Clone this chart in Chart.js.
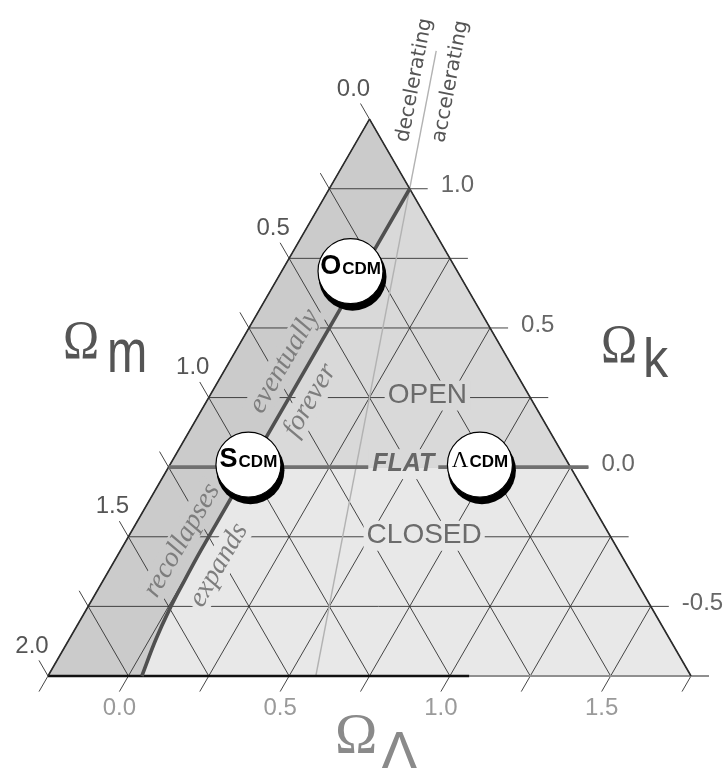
<!DOCTYPE html>
<html><head><meta charset="utf-8">
<script src="https://cdn.jsdelivr.net/npm/chart.js@4.4.1/dist/chart.umd.min.js"></script>
<style>html,body{margin:0;padding:0;background:#fff}#wrap{width:723px;height:768px}</style>
</head><body><div id="wrap"><canvas id="c" width="723" height="768"></canvas></div>
<script>
// ---------------- data ----------------
const omegaKLevels = [-0.75, -0.5, -0.25, 0, 0.25, 0.5, 0.75, 1.0];
const omegaLLevels = [-0.25, 0, 0.25, 0.5, 0.75, 1.0, 1.25, 1.5, 1.75];
const omegaMLevels = [0, 0.25, 0.5, 0.75, 1.0, 1.25, 1.5, 1.75, 2.0];

const omegaMTickValues = [0, 0.5, 1.0, 1.5, 2.0];
const omegaMTickLabels = ['0.0', '0.5', '1.0', '1.5', '2.0'];
const omegaKTickValues = [1.0, 0.5, 0, -0.5];
const omegaKTickLabels = ['1.0', '0.5', '0.0', '-0.5'];
const omegaLTickValues = [0, 0.5, 1.0, 1.5];
const omegaLTickLabels = ['0.0', '0.5', '1.0', '1.5'];

const modelLead   = ['O', 'S', 'Λ'];
const modelRest   = ['CDM', 'CDM', 'CDM'];
const modelOmegaM = [0.335, 1.0, 0.28];
const modelOmegaL = [-0.03, 0.0, 0.72];

// recollapse / expands-forever boundary
const boundaryOmegaM = [0.0, 0.5, 1.0, 1.2, 1.3, 1.4, 1.5, 1.6, 1.708];
const boundaryOmegaL = [0.0, 0.0, 0.0, 0.0, 0.0, 0.003, 0.008, 0.02, 0.042];

// accelerating / decelerating line
const accelOmegaM = [-0.33, 1.167];
const accelOmegaL = [-0.165, 0.583];

const baseDarkEndOmegaL = 1.06;

// ---------------- geometry helpers ----------------
const SQ = Math.sqrt(3) / 2;
function P(ol, ok) { return { x: ol + ok / 2, y: ok * SQ }; }       // from (Ω_Λ, Ω_k)
function M(om, ol) { return P(ol, 1 - om - ol); }                    // from (Ω_m, Ω_Λ)
const T = 0.056; // tick extension

const COL_LOW = '#e8e8e8', COL_UP = '#d9d9d9', COL_DARK = '#cbcbcb';
const GRID = 'rgba(50,50,50,0.9)';

const datasets = [];
function line(points, color, width, order, extra) {
  datasets.push(Object.assign({
    data: points, showLine: true, pointRadius: 0, borderColor: color,
    borderWidth: width, fill: false, order: order, tension: 0
  }, extra || {}));
}
omegaKLevels.forEach(ok => {
  if (ok === -0.75) line([P(1 - ok, ok), P(1 - ok + T, ok)], '#8f8f8f', 2, 10);
  else line([P(-0.25, ok), P(1 - ok + T, ok)], GRID, 1, 10);
});
omegaLLevels.forEach(ol => line([P(ol, -0.75 - T), P(ol, 1 - ol)], GRID, 1, 10));
omegaMLevels.forEach(om => line([P(-0.25 - T, 1.25 - om + T), P(1.75 - om, -0.75)], GRID, 1, 10));

line(accelOmegaM.map((m, i) => M(m, accelOmegaL[i])), '#b2b2b2', 1.4, 8);

line([P(-0.25, -0.75), P(-0.25, 1.25)], '#2b2b2b', 1.6, 6);
line([P(-0.25, 1.25), P(1.75, -0.75)], '#2b2b2b', 1.6, 6);
line([P(-0.25, -0.75), P(baseDarkEndOmegaL, -0.75)], '#111111', 2.6, 6);
line([P(baseDarkEndOmegaL, -0.75), P(1.75, -0.75)], '#8f8f8f', 2.2, 6);

line([P(-0.25, 0), P(1 + T, 0)], '#707070', 3.6, 4);
line(boundaryOmegaM.map((m, i) => M(m, boundaryOmegaL[i])), '#505050', 3.6, 4, { tension: 0.4 });

// ---------------- plugins ----------------
function px(chart, pt) {
  return { x: chart.scales.x.getPixelForValue(pt.x), y: chart.scales.y.getPixelForValue(pt.y) };
}
function poly(chart, pts, color) {
  const ctx = chart.ctx;
  ctx.beginPath();
  pts.forEach((p, i) => { const q = px(chart, p); i ? ctx.lineTo(q.x, q.y) : ctx.moveTo(q.x, q.y); });
  ctx.closePath(); ctx.fillStyle = color; ctx.fill();
}
const bgPlugin = {
  id: 'bg',
  beforeDatasetsDraw(chart) {
    poly(chart, [P(-0.25, -0.75), P(-0.25, 1.25), P(1.75, -0.75)], COL_LOW);
    poly(chart, [P(-0.25, 0), P(-0.25, 1.25), P(1, 0)], COL_UP);
    const strip = [P(-0.25, 1.25)].concat(boundaryOmegaM.map((m, i) => M(m, boundaryOmegaL[i]))).concat([P(-0.25, -0.75)]);
    poly(chart, strip, COL_DARK);
  }
};

function label(ctx, text, x, y, angle, font, color, bg, padX, bgH, align) {
  ctx.save();
  ctx.translate(x, y); ctx.rotate(angle || 0);
  ctx.font = font; ctx.textAlign = align || 'center'; ctx.textBaseline = 'middle';
  const w = ctx.measureText(text).width;
  if (bg) {
    const x0 = (align === 'left') ? -padX : -w / 2 - padX;
    if (Array.isArray(bg)) {
      ctx.fillStyle = bg[0]; ctx.fillRect(x0, -bgH / 2, w + 2 * padX, bgH / 2 + bg[2]);
      ctx.fillStyle = bg[1]; ctx.fillRect(x0, bg[2], w + 2 * padX, bgH / 2 - bg[2]);
    } else { ctx.fillStyle = bg; ctx.fillRect(x0, -bgH / 2, w + 2 * padX, bgH); }
  }
  ctx.fillStyle = color; ctx.fillText(text, 0, 0);
  ctx.restore();
}
function scaledText(ctx, text, x, y, font, sx, color) {
  ctx.save(); ctx.translate(x, y); ctx.scale(sx, 1);
  ctx.font = font; ctx.fillStyle = color; ctx.textAlign = 'left'; ctx.textBaseline = 'alphabetic';
  ctx.fillText(text, 0, 0); ctx.restore();
}

const fgPlugin = {
  id: 'fg',
  afterDatasetsDraw(chart) {
    const ctx = chart.ctx;
    // tick labels
    omegaMTickValues.forEach((v, i) => {
      const q = px(chart, P(-0.25, 1.25 - v));
      label(ctx, omegaMTickLabels[i], q.x - 16, q.y - 30, 0, '24px "Liberation Sans"', '#555');
    });
    omegaKTickValues.forEach((v, i) => {
      const q = px(chart, P(1 - v, v));
      label(ctx, omegaKTickLabels[i], q.x + 31, q.y - 3, 0, '24px "Liberation Sans"', '#676767', null, 0, 0, 'left');
    });
    omegaLTickValues.forEach((v, i) => {
      const q = px(chart, P(v, -0.75));
      label(ctx, omegaLTickLabels[i], q.x - 9, q.y + 32, 0, '24px "Liberation Sans"', '#9a9a9a');
    });

    // region labels
    let q = px(chart, M(0.32, 0.43));
    label(ctx, 'OPEN', q.x, q.y - 2, 0, '28px "Liberation Sans"', '#6b6b6b', COL_UP, 3, 30);
    q = px(chart, M(0.58, 0.67));
    label(ctx, 'CLOSED', q.x, q.y - 1, 0, '28px "Liberation Sans"', '#6b6b6b', COL_LOW, 3, 30);
    q = px(chart, M(0.52, 0.48));
    label(ctx, 'FLAT', q.x, q.y - 3, 0, 'italic bold 25px "Liberation Sans"', '#666', [COL_UP, COL_LOW, 3], 4, 30);

    // angled italic labels along the boundary
    const a0 = px(chart, P(0, -0.75)), a1 = px(chart, P(0, 1));
    const ang = Math.atan2(a1.y - a0.y, a1.x - a0.x);
    const serif = 'italic 28px "Liberation Serif"', sc = '#7d7d7d';
    q = px(chart, M(0.70, -0.08)); label(ctx, 'eventually', q.x, q.y, ang, serif, sc, COL_DARK, 3, 28);
    q = px(chart, M(0.69, 0.07));  label(ctx, 'forever', q.x, q.y, ang, serif, sc, COL_UP, 3, 28);
    q = px(chart, M(1.34, -0.077)); label(ctx, 'recollapses', q.x, q.y, ang, serif, sc, COL_DARK, 3, 28);
    q = px(chart, M(1.27, 0.082)); label(ctx, 'expands', q.x, q.y, ang, serif, sc, COL_LOW, 3, 28);

    // accelerating / decelerating
    const b0 = px(chart, M(accelOmegaM[1], accelOmegaL[1])), b1 = px(chart, M(accelOmegaM[0], accelOmegaL[0]));
    const angA = Math.atan2(b1.y - b0.y, b1.x - b0.x);
    q = px(chart, M(-0.21, -0.18)); label(ctx, 'decelerating', q.x, q.y, angA, '20px "DejaVu Sans"', '#555');
    q = px(chart, M(-0.32, -0.065)); label(ctx, 'accelerating', q.x, q.y, angA, '20px "DejaVu Sans"', '#555');

    // model circles
    modelOmegaM.forEach((om, i) => {
      const c = px(chart, M(om, modelOmegaL[i]));
      ctx.save();
      ctx.beginPath(); ctx.arc(c.x + 1.5, c.y + 3, 34, 0, Math.PI * 2); ctx.fillStyle = '#000'; ctx.fill();
      ctx.beginPath(); ctx.arc(c.x - 0.5, c.y - 2.5, 32.5, 0, Math.PI * 2);
      ctx.fillStyle = '#fff'; ctx.fill(); ctx.lineWidth = 1.2; ctx.strokeStyle = '#000'; ctx.stroke();
      const leadFont = modelLead[i] === 'Λ' ? '23px "Liberation Serif"' : 'bold 27px "Liberation Sans"';
      const restFont = 'bold 17px "Liberation Sans"';
      ctx.font = leadFont; const w1 = ctx.measureText(modelLead[i]).width;
      ctx.font = restFont; const w2 = ctx.measureText(modelRest[i]).width;
      const x0 = c.x - 0.5 - (w1 + w2 + 1) / 2;
      ctx.textBaseline = 'alphabetic'; ctx.textAlign = 'left'; ctx.fillStyle = '#000';
      ctx.font = leadFont; ctx.fillText(modelLead[i], x0, c.y);
      ctx.font = restFont; ctx.fillText(modelRest[i], x0 + w1 + 1, c.y);
      ctx.restore();
    });

    // axis titles
    const ca = chart.chartArea;
    scaledText(ctx, 'Ω', ca.left + 63, ca.top + 358, '54px "Liberation Serif"', 0.9, '#555');
    scaledText(ctx, 'm', ca.left + 107, ca.top + 372, '62px "Liberation Sans"', 0.78, '#555');
    scaledText(ctx, 'Ω', ca.left + 601, ca.top + 362, '54px "Liberation Serif"', 0.9, '#555');
    scaledText(ctx, 'k', ca.left + 643, ca.top + 377, '56px "Liberation Sans"', 0.9, '#555');
    scaledText(ctx, 'Ω', ca.left + 335, ca.top + 753, '57px "Liberation Serif"', 1.0, '#8a8a8a');
    scaledText(ctx, 'Λ', ca.left + 380, ca.top + 772, '58px "Liberation Sans"', 1.0, '#8a8a8a');
  }
};

new Chart(document.getElementById('c'), {
  type: 'scatter',
  data: { datasets: datasets },
  options: {
    responsive: false, animation: false, devicePixelRatio: 1, events: [],
    layout: { padding: 0 },
    scales: {
      x: { type: 'linear', min: -0.7743, max: 1.4745, display: false },
      y: { type: 'linear', min: -0.9357, max: 1.4531, display: false }
    },
    plugins: { legend: { display: false }, tooltip: { enabled: false } }
  },
  plugins: [bgPlugin, fgPlugin]
});
</script></body></html>
